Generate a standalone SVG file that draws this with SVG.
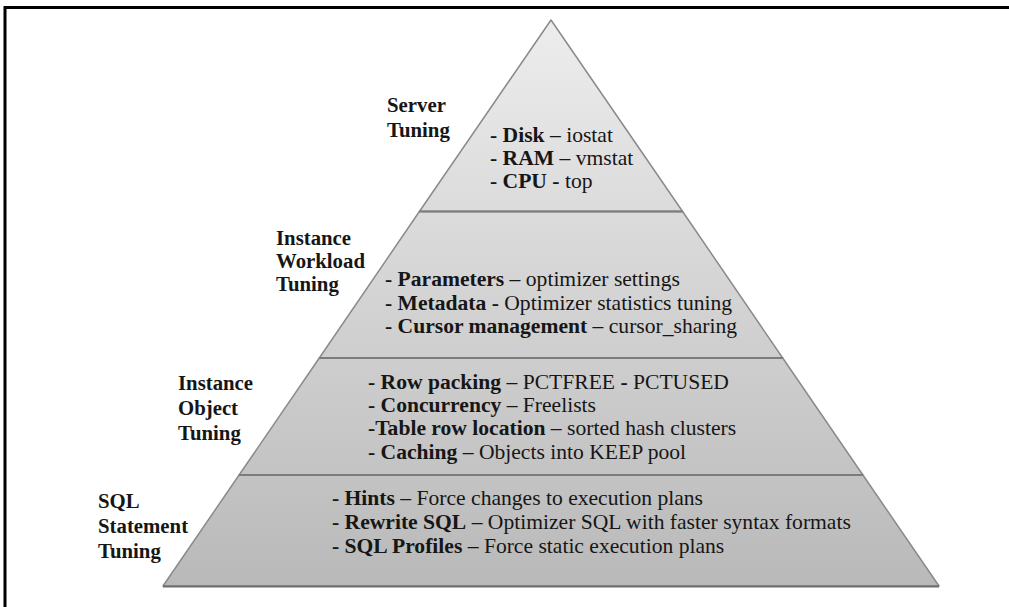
<svg xmlns="http://www.w3.org/2000/svg" width="1009" height="607" viewBox="0 0 1009 607">
<defs>
<linearGradient id="fillG" gradientUnits="userSpaceOnUse" x1="0" y1="20" x2="0" y2="586">
<stop offset="0" stop-color="#ededed"/>
<stop offset="1" stop-color="#b9b9b9"/>
</linearGradient>
<style>
.tier{fill:url(#fillG);stroke:#8a8a8a;stroke-width:1.5;stroke-linejoin:round}
.div{stroke:#7c7c7c;stroke-width:2;fill:none}
.t{font-family:'Liberation Serif','Times New Roman',serif;font-size:20px;fill:#161616}
.lbl{font-weight:bold}
.b{font-weight:bold}
</style>
</defs>
<rect x="0" y="0" width="1009" height="607" fill="#ffffff"/>
<path d="M5,607 V7.5 H1009" fill="none" stroke="#000" stroke-width="3"/>

<g id="server-tuning" class="t">
<polygon class="tier" points="551,20 682.6,211.5 419.4,211.5"/>
<text class="lbl" transform="translate(387 112) scale(1.04 1)">Server</text>
<text class="lbl" transform="translate(387 137) scale(1.04 1)">Tuning</text>
<text transform="translate(490 142) scale(1.08 1)"><tspan class="b">- Disk</tspan> – iostat</text>
<text transform="translate(490 165) scale(1.08 1)"><tspan class="b">- RAM</tspan> – vmstat</text>
<text transform="translate(490 188) scale(1.08 1)"><tspan class="b">- CPU -</tspan> top</text>
</g>

<g id="instance-workload-tuning" class="t">
<polygon class="tier" points="419.4,211.5 682.6,211.5 782.7,358 319.3,358"/>
<text class="lbl" transform="translate(276 245) scale(1.04 1)">Instance</text>
<text class="lbl" transform="translate(276 268) scale(1.04 1)">Workload</text>
<text class="lbl" transform="translate(276 291) scale(1.04 1)">Tuning</text>
<text transform="translate(385 286) scale(1.08 1)"><tspan class="b">- Parameters</tspan> – optimizer settings</text>
<text transform="translate(385 310) scale(1.08 1)"><tspan class="b">- Metadata -</tspan> Optimizer statistics tuning</text>
<text transform="translate(385 333) scale(1.08 1)"><tspan class="b">- Cursor management</tspan> – cursor_sharing</text>
</g>

<g id="instance-object-tuning" class="t">
<polygon class="tier" points="319.3,358 782.7,358 862.9,475 239.1,475"/>
<text class="lbl" transform="translate(178 390) scale(1.04 1)">Instance</text>
<text class="lbl" transform="translate(178 415) scale(1.04 1)">Object</text>
<text class="lbl" transform="translate(178 440) scale(1.04 1)">Tuning</text>
<text transform="translate(368 389) scale(1.08 1)"><tspan class="b">- Row packing</tspan> – PCTFREE <tspan class="b">-</tspan> PCTUSED</text>
<text transform="translate(368 412) scale(1.08 1)"><tspan class="b">- Concurrency</tspan> – Freelists</text>
<text transform="translate(368 435) scale(1.08 1)"><tspan class="b">-Table row location</tspan> – sorted hash clusters</text>
<text transform="translate(368 459) scale(1.08 1)"><tspan class="b">- Caching</tspan> – Objects into KEEP pool</text>
</g>

<g id="sql-statement-tuning" class="t">
<polygon class="tier" points="239.1,475 862.9,475 939,586 163,586"/>
<text class="lbl" transform="translate(98 508) scale(1.04 1)">SQL</text>
<text class="lbl" transform="translate(98 533) scale(1.04 1)">Statement</text>
<text class="lbl" transform="translate(98 558) scale(1.04 1)">Tuning</text>
<text transform="translate(332 505) scale(1.08 1)"><tspan class="b">- Hints</tspan> – Force changes to execution plans</text>
<text transform="translate(332 529) scale(1.08 1)"><tspan class="b">- Rewrite SQL</tspan> – Optimizer SQL with faster syntax formats</text>
<text transform="translate(332 553) scale(1.08 1)"><tspan class="b">- SQL Profiles</tspan> – Force static execution plans</text>
</g>

<g id="connectors">
<line class="div" x1="419.4" y1="211.5" x2="682.6" y2="211.5"/>
<line class="div" x1="319.3" y1="358" x2="782.7" y2="358"/>
<line class="div" x1="239.1" y1="475" x2="862.9" y2="475"/>
<line x1="163" y1="586.5" x2="939" y2="586.5" stroke="#6e6e6e" stroke-width="2"/>
</g>
</svg>
